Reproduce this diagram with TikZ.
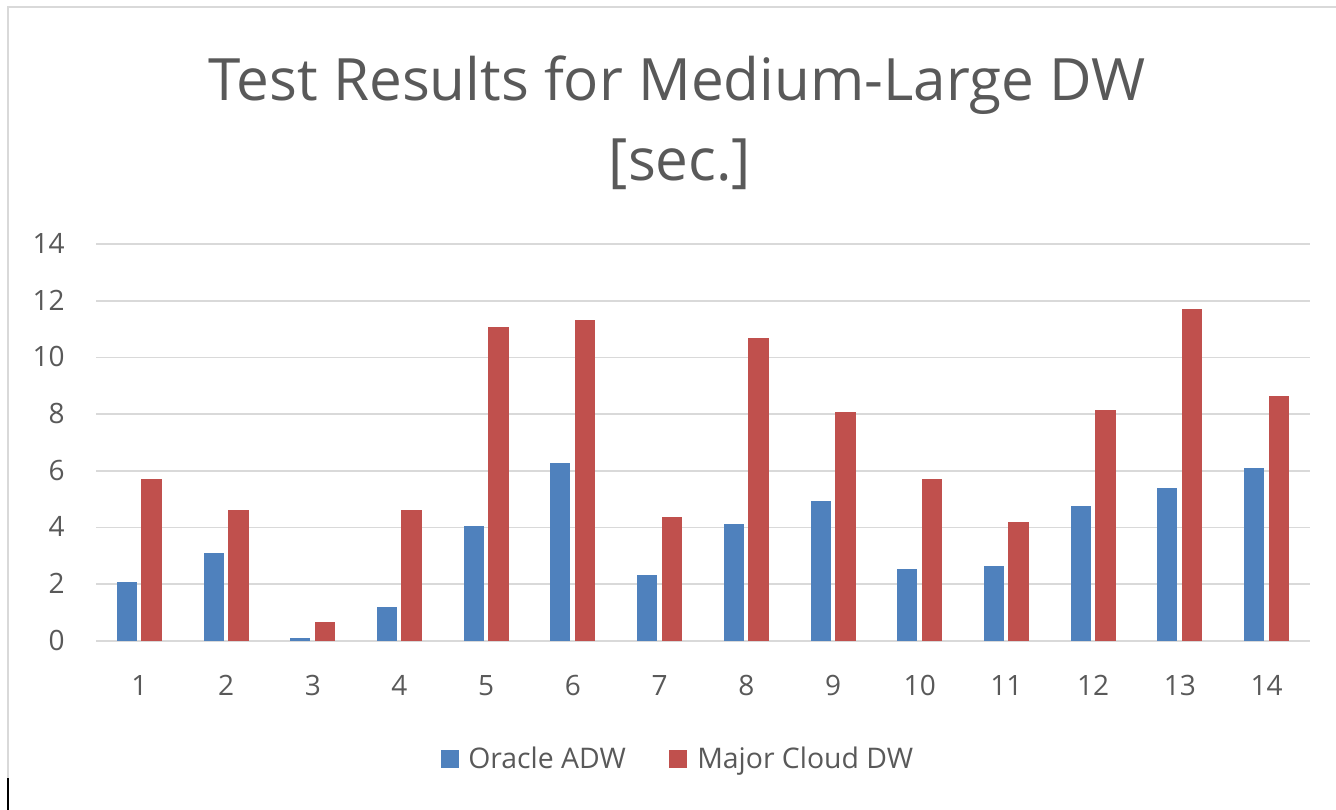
\documentclass[tikz,border=0pt]{standalone}
\usepackage{fontspec}
\setmainfont{Open Sans}
\usepackage{tikz}

\definecolor{adwblue}{HTML}{4F81BD}
\definecolor{cloudred}{HTML}{C0504D}
\definecolor{gridgray}{HTML}{D9D9D9}
\definecolor{labelgray}{HTML}{595959}

\begin{document}
\begin{tikzpicture}[x=0.75pt,y=0.75pt,yscale=-1,xscale=1,
    gridline/.style={draw=gridgray, line width=1.2},
    ticklabel/.style={text=labelgray, inner sep=0, font=\fontsize{21}{25}\selectfont},
    titletext/.style={text=labelgray, inner sep=0, font=\fontsize{43.8}{52}\selectfont},
    keybox/.style={minimum size=13.5pt, inner sep=0}]
  \useasboundingbox (0,0) rectangle (1336,810);
  % chart frame
  \draw[gridgray, line width=1.2] (1336,7) -- (8,7) -- (8,778);
  \draw[black, line width=1.5] (8,778) -- (8,810);
  % title
  \node[titletext, anchor=base] (title1) at (677,100) {Test Results for Medium-Large DW};
  \node[titletext, anchor=base] (title2) at (680,180) {[sec.]};
  % value axis
  \foreach \v in {0,2,...,14} {
    \draw[gridline] (96,{640.7-28.33*\v}) -- (1310,{640.7-28.33*\v});
    \node[ticklabel, anchor=base east] (y\v) at (65,{640.7-28.33*\v+9.5}) {\v};
  }
  % bars
  \foreach \i/\a/\b in {1/2.07/5.70, 2/3.10/4.60, 3/0.08/0.65, 4/1.20/4.60,
      5/4.04/11.07, 6/6.26/11.32, 7/2.31/4.37, 8/4.12/10.68, 9/4.92/8.07,
      10/2.54/5.71, 11/2.63/4.20, 12/4.75/8.15, 13/5.39/11.71, 14/6.10/8.63} {
    \pgfmathsetmacro\cx{96+(\i-0.5)*86.71}
    \fill[adwblue] ({\cx-22.5},640.7) rectangle ({\cx-2.5},{640.7-28.33*\a});
    \fill[cloudred] ({\cx+2},640.7) rectangle ({\cx+22.5},{640.7-28.33*\b});
    \node[ticklabel, anchor=base] (x\i) at (\cx,695) {\i};
  }
  % legend
  \node[keybox, fill=adwblue] (keyadw) at (450,759) {};
  \node[ticklabel, font=\fontsize{21.3}{25}\selectfont, anchor=base west] (adw) at (468,768) {Oracle ADW};
  \node[keybox, fill=cloudred] (keycloud) at (677.5,759) {};
  \node[ticklabel, font=\fontsize{21.3}{25}\selectfont, anchor=base west] (cloud) at (697,768) {Major Cloud DW};
\end{tikzpicture}
\end{document}
